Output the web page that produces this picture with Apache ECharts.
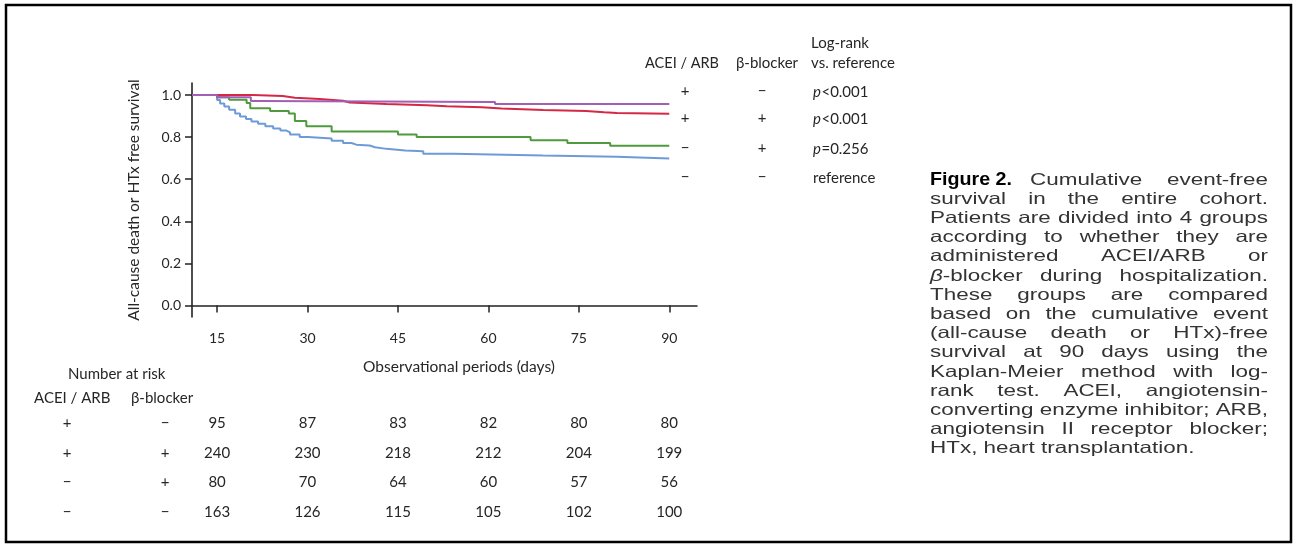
<!DOCTYPE html>
<html><head><meta charset="utf-8">
<script src="https://cdn.jsdelivr.net/npm/echarts@6/dist/echarts.min.js"></script>
<style>html,body{margin:0;padding:0;background:#fff}#c{width:1297px;height:548px}</style>
</head><body><div id="c"></div>
<script>
// ---- data ----
const xTicks = [15, 30, 45, 60, 75, 90];
const yTicks = [0, 0.2, 0.4, 0.6, 0.8, 1.0];
const groupNames = ['ACEI/ARB + / β-blocker −', 'ACEI/ARB + / β-blocker +', 'ACEI/ARB − / β-blocker +', 'ACEI/ARB − / β-blocker −'];
const groupColors = ['#a25fb4', '#d42846', '#4f9a3c', '#6e9bd8'];
const survPlusMinus = [[10.84,1],[15,0.989],[20.6,0.972],[22,0.967],[61.1,0.957],[90,0.957]];
const survPlusPlus = [[10.84,1],[20.9,0.995],[25.9,0.987],[27.9,0.981],[32.0,0.973],[35.9,0.964],[37.0,0.957],[43.1,0.951],[49.8,0.946],[53.1,0.942],[58.9,0.936],[62.2,0.929],[69.1,0.924],[76.2,0.918],[79.2,0.915],[81.3,0.911],[90,0.911]];
const survMinusPlus = [[10.84,1],[15,0.989],[17,0.977],[19.9,0.962],[20.5,0.937],[23.8,0.924],[26.9,0.912],[27.9,0.876],[29.8,0.851],[34.0,0.827],[45.0,0.812],[48.1,0.800],[67.0,0.785],[73.1,0.772],[80.2,0.759],[90,0.759]];
const survMinusMinus = [[10.84,1],[15,0.976],[15.5,0.960],[16.2,0.945],[17,0.930],[18,0.912],[18.8,0.898],[19.8,0.886],[20.7,0.874],[21.8,0.863],[23,0.852],[24.3,0.841],[25.5,0.831],[26.5,0.822],[27.1,0.812],[28.7,0.800],[30.1,0.793],[34.0,0.783],[35.9,0.772],[37.3,0.764],[38.1,0.760],[40.3,0.752],[41.2,0.744],[43.1,0.736],[46.2,0.733],[49.2,0.721],[54.2,0.712],[69.1,0.706],[81.3,0.698],[90,0.698]];
const legendAcei = ['+', '+', '−', '−'];
const legendBeta = ['−', '+', '+', '−'];
const logRank = [['p','<0.001'], ['p','<0.001'], ['p','=0.256'], ['','reference']];
const riskAcei = ['+', '+', '−', '−'];
const riskBeta = ['−', '+', '+', '−'];
const riskRows = [
  [95, 87, 83, 82, 80, 80],
  [240, 230, 218, 212, 204, 199],
  [80, 70, 64, 60, 57, 56],
  [163, 126, 115, 105, 102, 100]
];
const captionLead = 'Figure 2.';
const captionLines = [
  'Cumulative event-free',
  'survival in the entire cohort.',
  'Patients are divided into 4 groups',
  'according to whether they are',
  'administered ACEI/ARB or',
  'β-blocker during hospitalization.',
  'These groups are compared',
  'based on the cumulative event',
  '(all-cause death or HTx)-free',
  'survival at 90 days using the',
  'Kaplan-Meier method with log-',
  'rank test. ACEI, angiotensin-',
  'converting enzyme inhibitor; ARB,',
  'angiotensin II receptor blocker;',
  'HTx, heart transplantation.'
];

// ---- chart ----
const FF = 'Lato, "Open Sans", sans-serif';
const TXT = '#262626';
const chart = echarts.init(document.getElementById('c'), null, {renderer: 'canvas'});
const seriesData = [survPlusMinus, survPlusPlus, survMinusPlus, survMinusMinus];
chart.setOption({
  animation: false,
  backgroundColor: '#fff',
  grid: {left: 192, top: 83, width: 505, height: 234},
  xAxis: {
    type: 'value', min: 10.84, max: 94.6,
    name: 'Observational periods (days)', nameLocation: 'middle', nameGap: 42,
    nameTextStyle: {fontFamily: FF, fontSize: 15.5, color: TXT, padding: [0, 0, 0, 29]},
    axisLine: {lineStyle: {color: '#222', width: 1.6}},
    axisTick: {customValues: xTicks, length: 7, inside: false, lineStyle: {color: '#222', width: 1.5}},
    axisLabel: {customValues: xTicks, margin: 14, fontFamily: FF, fontSize: 14, color: TXT},
    splitLine: {show: false}
  },
  yAxis: {
    type: 'value', min: -0.055, max: 1.057,
    name: 'All-cause death or HTx free survival', nameLocation: 'middle', nameGap: 50, nameRotate: 90,
    nameTextStyle: {fontFamily: FF, fontSize: 15.5, color: TXT},
    axisLine: {show: true, lineStyle: {color: '#222', width: 1.6}},
    axisTick: {show: true, customValues: yTicks, length: 7, inside: false, lineStyle: {color: '#222', width: 1.5}},
    axisLabel: {customValues: yTicks, margin: 11, fontFamily: FF, fontSize: 14, color: TXT,
      formatter: v => Number(v).toFixed(1)},
    splitLine: {show: false}
  },
  series: seriesData.map((d, i) => ({
    name: groupNames[i], type: 'line', step: 'end', data: d, showSymbol: false, symbol: 'none',
    lineStyle: {color: groupColors[i], width: 2}, itemStyle: {color: groupColors[i]}, z: 10 - i
  }))
});

// ---- text layout helpers ----
const cv = document.createElement('canvas').getContext('2d');
function measure(t, font) { cv.font = font; return cv.measureText(t).width; }
function txt(t, x, y, font, opts) {
  opts = opts || {};
  return {type: 'text', x: x, y: y, scaleX: opts.sx || 1, silent: true,
    style: {text: t, x: 0, y: 0, font: font, fill: opts.fill || TXT,
      textAlign: opts.align || 'left', align: opts.align || 'left',
      textVerticalAlign: 'middle', verticalAlign: 'middle'}};
}
const g = [];
// frame
g.push({type: 'rect', shape: {x: 6, y: 5, width: 1285, height: 537}, style: {fill: 'none', stroke: '#000', lineWidth: 2.5}, silent: true});

// legend table (top right)
const F15 = '15px ' + FF;
const F15i = 'italic 15px ' + FF;
const F145 = '14.5px ' + FF;
g.push(txt('ACEI / ARB', 682, 63, F145, {align: 'center'}));
g.push(txt('β-blocker', 767, 63, F15, {align: 'center'}));
g.push(txt('Log-rank', 840, 43, F15, {align: 'center'}));
g.push(txt('vs. reference', 853, 63, F15, {align: 'center'}));
const legY = [91, 118, 148, 177];
legendAcei.forEach((s, i) => {
  g.push(txt(legendAcei[i], 685, legY[i], F15, {align: 'center'}));
  g.push(txt(legendBeta[i], 762, legY[i], F15, {align: 'center'}));
  let x = 813;
  if (logRank[i][0]) { g.push(txt(logRank[i][0], x, legY[i] + 1, F15i)); x += measure(logRank[i][0], F15i) + 0.5; }
  g.push(txt(logRank[i][1], x, legY[i] + 1, F15));
});

// number at risk table
g.push(txt('Number at risk', 68, 374, F15));
g.push(txt('ACEI / ARB', 34, 398, F15));
g.push(txt('β-blocker', 131, 398, F15));
const riskY = [423, 453, 482, 512];
riskRows.forEach((row, i) => {
  g.push(txt(riskAcei[i], 67, riskY[i], F15, {align: 'center'}));
  g.push(txt(riskBeta[i], 165, riskY[i], F15, {align: 'center'}));
  row.forEach((v, j) => {
    const px = chart.convertToPixel({xAxisIndex: 0}, xTicks[j]);
    g.push(txt(String(v), px, riskY[i], F15, {align: 'center'}));
  });
});

// caption (justified, horizontally stretched type)
const CS = 16.5;
const capF = CS + 'px "Liberation Sans", Arial, sans-serif';
const capFi = 'italic ' + CS + 'px "Liberation Sans", Arial, sans-serif';
const capB = 'bold 19px "Liberation Sans", Arial, sans-serif';
const L = 930, R = 1268, top0 = 180, lead = 19.2;
function segs(w) { return w.charAt(0) === 'β' ? [{t: 'β', f: capFi}, {t: w.slice(1), f: capF}] : [{t: w, f: capF}]; }
function natural(line) {
  const ws = line.split(' ').map(segs);
  return ws.reduce((a, w) => a + w.reduce((b, s) => b + measure(s.t, s.f), 0), 0) + (ws.length - 1) * measure(' ', capF);
}
let sx = Infinity;
captionLines.forEach((line, i) => {
  const left = i === 0 ? 1030 : L;
  sx = Math.min(sx, (R - left) / natural(line));
});
const sxB = 82 / measure(captionLead, capB);
g.push(txt(captionLead, L, top0, capB, {sx: sxB, fill: '#000'}));
captionLines.forEach((line, i) => {
  const y = top0 + i * lead;
  const left = i === 0 ? 1030 : L;
  const words = line.split(' ').map(segs);
  const widths = words.map(ws => ws.reduce((a, s) => a + measure(s.t, s.f) * sx, 0));
  const sum = widths.reduce((a, b) => a + b, 0);
  const last = i === captionLines.length - 1;
  const gap = (!last && words.length > 1) ? (R - left - sum) / (words.length - 1) : measure(' ', capF) * sx;
  let x = left;
  words.forEach((ws, k) => {
    ws.forEach(s => { g.push(txt(s.t, x, y, s.f, {sx: sx, fill: '#333'})); x += measure(s.t, s.f) * sx; });
    x += gap;
  });
});
chart.setOption({graphic: {elements: g}});
</script>
</body></html>
